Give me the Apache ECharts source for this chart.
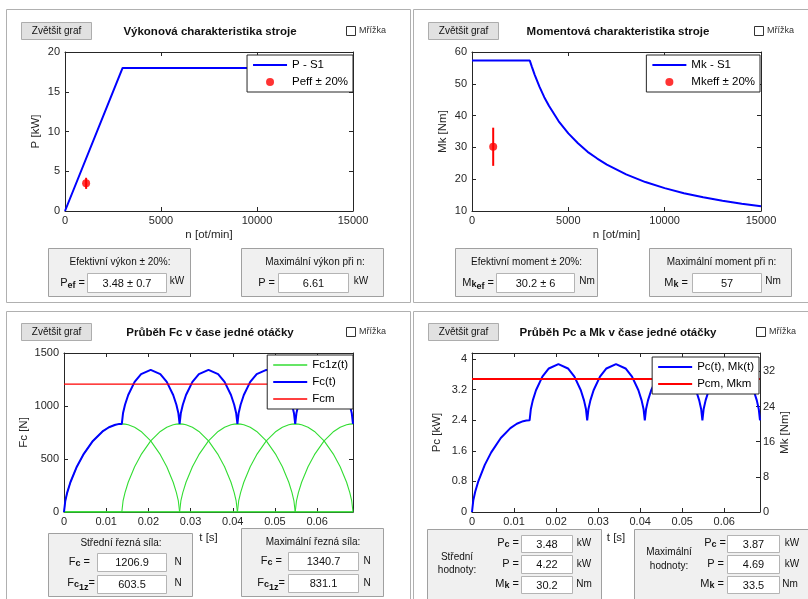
<!DOCTYPE html>
<html><head><meta charset="utf-8">
<script src="https://cdn.jsdelivr.net/npm/echarts@6/dist/echarts.min.js"></script>
<style>html,body{margin:0;padding:0;background:#fff}#c{width:808px;height:599px}</style>
</head><body><div id="c"></div>
<script>
// ---------------- DATA ----------------
// Panel 1: power characteristic
const powerN = [0, 3000, 15000];
const powerKW = [0, 18, 18];
const peffN = 1100, peffKW = 3.48, peffErr = 0.7;
// Panel 2: torque characteristic
const torqueN = [0, 3000, 3100, 3250, 3500, 3750, 4000, 4500, 5000, 5500, 6000, 6500, 7000, 8000, 9000, 10000, 11000, 12000, 13000, 14000, 15000];
const torqueNm = [57.3, 57.3, 55.5, 52.9, 49.1, 45.8, 43.0, 38.2, 34.4, 31.3, 28.6, 26.5, 24.6, 21.5, 19.1, 17.2, 15.6, 14.3, 13.2, 12.3, 11.5];
const mkeffN = 1100, mkeffNm = 30.2, mkeffErr = 6;
// Panels 3 & 4: time within one revolution [s]
const timeS = [
 0, 0.0003, 0.00076, 0.00152, 0.00304, 0.00457, 0.00685, 0.00913, 0.01066, 0.01218, 0.01294, 0.0134, 0.0137,
 0.0140, 0.01446, 0.01522, 0.01674, 0.01827, 0.02055, 0.02283, 0.02436, 0.02588, 0.02664, 0.0271, 0.0274,
 0.0277, 0.02816, 0.02892, 0.03044, 0.03197, 0.03425, 0.03653, 0.03806, 0.03958, 0.04034, 0.0408, 0.0411,
 0.0414, 0.04186, 0.04262, 0.04414, 0.04567, 0.04795, 0.05023, 0.05176, 0.05328, 0.05404, 0.0545, 0.0548,
 0.0551, 0.05556, 0.05632, 0.05784, 0.05937, 0.06165, 0.06393, 0.06546, 0.06698, 0.06774, 0.0682, 0.0685];
// total cutting force Fc(t) [N]
const fcTotal = [
 0, 103.8, 183.1, 280.7, 427.4, 540.8, 670.4, 760.2, 799.7, 823.3, 829.1, 830.8, 831.1,
 934.6, 1012.2, 1104.0, 1227.1, 1301.0, 1340.8, 1301.0, 1227.1, 1104.0, 1012.2, 934.6, 831.1,
 934.6, 1012.2, 1104.0, 1227.1, 1301.0, 1340.8, 1301.0, 1227.1, 1104.0, 1012.2, 934.6, 831.1,
 934.6, 1012.2, 1104.0, 1227.1, 1301.0, 1340.8, 1301.0, 1227.1, 1104.0, 1012.2, 934.6, 831.1,
 934.6, 1012.2, 1104.0, 1227.1, 1301.0, 1340.8, 1301.0, 1227.1, 1104.0, 1012.2, 934.6, 831.1];
// force on one tooth during its engagement [N] (same arch for every tooth)
const fc1zArch = [0, 103.8, 183.1, 280.7, 427.4, 540.8, 670.4, 760.2, 799.7, 823.3, 829.1, 830.8, 831.1,
 830.8, 829.1, 823.3, 799.7, 760.2, 670.4, 540.8, 427.4, 280.7, 183.1, 103.8, 0];
const toothStartIdx = [0, 12, 24, 36, 48];
const fcMean = 1206.9;
// cutting power Pc(t) [kW]
const pcTotal = [
 0, 0.300, 0.528, 0.810, 1.233, 1.561, 1.935, 2.194, 2.308, 2.376, 2.393, 2.398, 2.399,
 2.697, 2.921, 3.186, 3.541, 3.755, 3.870, 3.755, 3.541, 3.186, 2.921, 2.697, 2.399,
 2.697, 2.921, 3.186, 3.541, 3.755, 3.870, 3.755, 3.541, 3.186, 2.921, 2.697, 2.399,
 2.697, 2.921, 3.186, 3.541, 3.755, 3.870, 3.755, 3.541, 3.186, 2.921, 2.697, 2.399,
 2.697, 2.921, 3.186, 3.541, 3.755, 3.870, 3.755, 3.541, 3.186, 2.921, 2.697, 2.399];
const pcMean = 3.48;
const tMax = 0.0685;

// ---------------- STYLE HELPERS ----------------
const F = '"Liberation Sans", Arial, Helvetica, sans-serif';
const AX = '#262626';
const BLUE = '#0000ff', RED = '#ff0000', GREEN = '#33dd33';
const ICON_THICK = 'path://M0,0M34,8M0,3H34V5H0Z';
const ICON_THIN = 'path://M0,0M34,8M0,3.25H34V4.75H0Z';
const cx = document.createElement('canvas').getContext('2d');
const G = [];
function rect(x, y, w, h, fill, stroke) {
  G.push({type: 'rect', silent: true, z: 1, shape: {x: x, y: y, width: w, height: h},
    style: {fill: fill, stroke: stroke, lineWidth: 1}});
}
function txt(x, y, t, size, o) {
  o = o || {};
  G.push({type: 'text', silent: true, z: 5, x: x, y: y,
    style: {text: t, fontSize: size, fontFamily: F, fontWeight: o.w || 'normal',
      fill: o.fill || '#111', align: o.align || 'left', verticalAlign: 'middle'}});
}
// right-aligned label made of parts with subscripts
function lbl(xRight, y, parts) {
  let total = 0;
  parts.forEach(p => { cx.font = (p.w || 'normal') + ' ' + p.s + 'px ' + F; p.wd = cx.measureText(p.t).width; total += p.wd; });
  let x = xRight - total;
  parts.forEach(p => { txt(x, y + (p.dy || 0), p.t, p.s, {w: p.w}); x += p.wd; });
}
function input(x, y, w, h, val) {
  rect(x + 0.5, y + 0.5, w, h, '#ffffff', '#b4b4b4');
  txt(x + w / 2 + 0.5, y + h / 2 + 1, val, 11, {align: 'center'});
}

// panel frames
rect(6.5, 9.5, 404, 293, 'none', '#b0b0b0');
rect(413.5, 9.5, 400, 293, 'none', '#b0b0b0');
rect(6.5, 311.5, 404, 300, 'none', '#b0b0b0');
rect(413.5, 311.5, 400, 300, 'none', '#b0b0b0');
// buttons, titles, checkboxes
[[21, 22, 210, 32, 'Výkonová charakteristika stroje', 346, 359],
 [428, 22, 618, 32, 'Momentová charakteristika stroje', 754, 767],
 [21, 323, 210, 333, 'Průběh Fc v čase jedné otáčky', 346, 359],
 [428, 323, 618, 333, 'Průběh Pc a Mk v čase jedné otáčky', 756, 769]].forEach(p => {
  rect(p[0] + 0.5, p[1] + 0.5, 70, 17, '#e1e1e1', '#adadad');
  txt(p[0] + 35.5, p[1] + 9.5, 'Zvětšit graf', 10, {align: 'center'});
  txt(p[2], p[3], p[4], 11.5, {align: 'center', w: 'bold'});
  rect(p[5] + 0.5, p[1] + 4.5, 9, 9, '#ffffff', '#333333');
  txt(p[6], p[1] + 9, 'Mřížka', 9, {fill: '#333'});
});

// Panel 1 boxes
rect(48.5, 248.5, 142, 48, '#f0f0f0', '#a0a0a0');
txt(120, 262, 'Efektivní výkon ± 20%:', 10, {align: 'center'});
lbl(85, 283, [{t: 'P', s: 11}, {t: 'ef', s: 9, w: 'bold', dy: 3}, {t: ' =', s: 11}]);
input(87, 273, 79, 19, '3.48 ± 0.7');
txt(177, 281, 'kW', 10, {align: 'center'});
rect(241.5, 248.5, 142, 48, '#f0f0f0', '#a0a0a0');
txt(315, 262, 'Maximální výkon při n:', 10, {align: 'center'});
lbl(275, 283, [{t: 'P =', s: 11}]);
input(278, 273, 70, 19, '6.61');
txt(361, 281, 'kW', 10, {align: 'center'});
// Panel 2 boxes
rect(455.5, 248.5, 142, 48, '#f0f0f0', '#a0a0a0');
txt(526.5, 262, 'Efektivní moment ± 20%:', 10, {align: 'center'});
lbl(494, 283, [{t: 'M', s: 11}, {t: 'k', s: 9, w: 'bold', dy: 2}, {t: 'ef', s: 9, w: 'bold', dy: 4}, {t: ' =', s: 11}]);
input(496, 273, 78, 19, '30.2 ± 6');
txt(587, 281, 'Nm', 10, {align: 'center'});
rect(649.5, 248.5, 142, 48, '#f0f0f0', '#a0a0a0');
txt(721.5, 262, 'Maximální moment při n:', 10, {align: 'center'});
lbl(688, 283, [{t: 'M', s: 11}, {t: 'k', s: 9, w: 'bold', dy: 2}, {t: ' =', s: 11}]);
input(692, 273, 69, 19, '57');
txt(773, 281, 'Nm', 10, {align: 'center'});
// Panel 3 boxes
rect(48.5, 533.5, 144, 63, '#f0f0f0', '#a0a0a0');
txt(121, 543, 'Střední řezná síla:', 10, {align: 'center'});
lbl(90, 562, [{t: 'F', s: 11}, {t: 'c', s: 9, w: 'bold', dy: 2}, {t: ' =', s: 11}]);
input(97, 553, 69, 18, '1206.9');
txt(178, 562, 'N', 10, {align: 'center'});
lbl(95, 583, [{t: 'F', s: 11}, {t: 'c', s: 9, w: 'bold', dy: 2}, {t: '1z', s: 9, w: 'bold', dy: 5}, {t: '=', s: 11}]);
input(97, 575, 69, 18, '603.5');
txt(178, 583, 'N', 10, {align: 'center'});
rect(241.5, 528.5, 142, 68, '#f0f0f0', '#a0a0a0');
txt(313, 542, 'Maximální řezná síla:', 10, {align: 'center'});
lbl(282, 561, [{t: 'F', s: 11}, {t: 'c', s: 9, w: 'bold', dy: 2}, {t: ' =', s: 11}]);
input(288, 552, 70, 18, '1340.7');
txt(367, 561, 'N', 10, {align: 'center'});
lbl(285, 583, [{t: 'F', s: 11}, {t: 'c', s: 9, w: 'bold', dy: 2}, {t: '1z', s: 9, w: 'bold', dy: 5}, {t: '=', s: 11}]);
input(288, 574, 70, 18, '831.1');
txt(367, 583, 'N', 10, {align: 'center'});
// Panel 4 boxes
rect(427.5, 529.5, 174, 70, '#f0f0f0', '#a0a0a0');
txt(457, 557, 'Střední', 10, {align: 'center'});
txt(457, 570, 'hodnoty:', 10, {align: 'center'});
lbl(519, 543, [{t: 'P', s: 11}, {t: 'c', s: 9, w: 'bold', dy: 2}, {t: ' =', s: 11}]);
input(521, 535, 51, 17, '3.48');
txt(584, 543, 'kW', 10, {align: 'center'});
lbl(519, 564, [{t: 'P =', s: 11}]);
input(521, 555, 51, 18, '4.22');
txt(584, 564, 'kW', 10, {align: 'center'});
lbl(519, 584, [{t: 'M', s: 11}, {t: 'k', s: 9, w: 'bold', dy: 2}, {t: ' =', s: 11}]);
input(521, 576, 51, 17, '30.2');
txt(584, 584, 'Nm', 10, {align: 'center'});
rect(634.5, 529.5, 180, 70, '#f0f0f0', '#a0a0a0');
txt(669, 552, 'Maximální', 10, {align: 'center'});
txt(669, 566, 'hodnoty:', 10, {align: 'center'});
lbl(726, 543, [{t: 'P', s: 11}, {t: 'c', s: 9, w: 'bold', dy: 2}, {t: ' =', s: 11}]);
input(727, 535, 52, 17, '3.87');
txt(792, 543, 'kW', 10, {align: 'center'});
lbl(724, 564, [{t: 'P =', s: 11}]);
input(727, 555, 52, 18, '4.69');
txt(792, 564, 'kW', 10, {align: 'center'});
lbl(724, 584, [{t: 'M', s: 11}, {t: 'k', s: 9, w: 'bold', dy: 2}, {t: ' =', s: 11}]);
input(727, 576, 52, 17, '33.5');
txt(790, 584, 'Nm', 10, {align: 'center'});

// ---------------- AXES ----------------
const grids = [
  {left: 65, top: 52, width: 288, height: 159},
  {left: 472, top: 52, width: 289, height: 159},
  {left: 64, top: 353, width: 289, height: 159},
  {left: 472, top: 353, width: 288, height: 159}
];
const plainNum = v => String(+(+v).toFixed(6));
function axis(kind, gi, pos, min, max, interval, o) {
  o = o || {};
  const a = {
    type: 'value', gridIndex: gi, position: pos, min: min, max: max, interval: interval,
    axisLine: {show: true, onZero: false, lineStyle: {color: AX, width: 1}},
    axisTick: {show: true, inside: true, length: 4, lineStyle: {color: AX}},
    splitLine: {show: false},
    axisLabel: {show: !!o.labels, color: AX, fontSize: 11, fontFamily: F, formatter: plainNum,
      margin: kind === 'x' ? 4 : (pos === 'right' ? 3 : 5), showMaxLabel: o.showMax !== false},
    name: o.name || '', nameLocation: 'middle', nameGap: o.gap || 20,
    nameTextStyle: {color: AX, fontSize: 11.5, fontFamily: F}
  };
  if (kind === 'y' && o.name) a.nameRotate = 90;
  return a;
}
const xAxes = [
  axis('x', 0, 'bottom', 0, 15000, 5000, {labels: true, name: 'n [ot/min]', gap: 18}),
  axis('x', 0, 'top', 0, 15000, 5000),
  axis('x', 1, 'bottom', 0, 15000, 5000, {labels: true, name: 'n [ot/min]', gap: 18}),
  axis('x', 1, 'top', 0, 15000, 5000),
  axis('x', 2, 'bottom', 0, tMax, 0.01, {labels: true, showMax: false, name: 't [s]', gap: 20}),
  axis('x', 2, 'top', 0, tMax, 0.01),
  axis('x', 3, 'bottom', 0, tMax, 0.01, {labels: true, showMax: false, name: 't [s]', gap: 20}),
  axis('x', 3, 'top', 0, tMax, 0.01)
];
const yAxes = [
  axis('y', 0, 'left', 0, 20, 5, {labels: true, name: 'P [kW]', gap: 23}),
  axis('y', 0, 'right', 0, 20, 5),
  axis('y', 1, 'left', 10, 60, 10, {labels: true, name: 'Mk [Nm]', gap: 23}),
  axis('y', 1, 'right', 10, 60, 10),
  axis('y', 2, 'left', 0, 1500, 500, {labels: true, name: 'Fc [N]', gap: 34}),
  axis('y', 2, 'right', 0, 1500, 500),
  axis('y', 3, 'left', 0, 4.16, 0.8, {labels: true, showMax: false, name: 'Pc [kW]', gap: 29}),
  axis('y', 3, 'right', 0, 36.2, 8, {labels: true, showMax: false, name: 'Mk [Nm]', gap: 18})
];

// ---------------- SERIES ----------------
function line(name, xi, yi, data, color, width, z) {
  return {type: 'line', name: name, xAxisIndex: xi, yAxisIndex: yi, data: data, symbol: 'none',
    color: color, lineStyle: {color: color, width: width}, z: z || 2, animation: false};
}
const series = [
  line('P - S1', 0, 0, powerN.map((n, i) => [n, powerKW[i]]), BLUE, 2),
  line('Peff err', 0, 0, [[peffN, peffKW - peffErr], [peffN, peffKW + peffErr]], RED, 2, 3),
  {type: 'scatter', name: 'Peff ± 20%', xAxisIndex: 0, yAxisIndex: 0, data: [[peffN, peffKW]],
    symbolSize: 8, color: RED, z: 4, animation: false},
  line('Mk - S1', 2, 2, torqueN.map((n, i) => [n, torqueNm[i]]), BLUE, 2),
  line('Mkeff err', 2, 2, [[mkeffN, mkeffNm - mkeffErr], [mkeffN, mkeffNm + mkeffErr]], RED, 2, 3),
  {type: 'scatter', name: 'Mkeff ± 20%', xAxisIndex: 2, yAxisIndex: 2, data: [[mkeffN, mkeffNm]],
    symbolSize: 8, color: RED, z: 4, animation: false}
];
toothStartIdx.forEach(s => {
  series.push(line('Fc1z(t)', 4, 4, timeS.map((t, i) =>
    [t, (i >= s && i - s < fc1zArch.length) ? fc1zArch[i - s] : 0]), GREEN, 1.1));
});
series.push(line('Fc(t)', 4, 4, timeS.map((t, i) => [t, fcTotal[i]]), BLUE, 2, 3));
series.push(line('Fcm', 4, 4, [[0, fcMean], [tMax, fcMean]], RED, 1.3, 3));
series.push(line('Pc(t), Mk(t)', 6, 6, timeS.map((t, i) => [t, pcTotal[i]]), BLUE, 2, 3));
series.push(line('Pcm, Mkm', 6, 6, [[0, pcMean], [tMax, pcMean]], RED, 2, 3));

const legCommon = {
  orient: 'vertical', backgroundColor: '#ffffff', borderColor: AX, borderWidth: 1, borderRadius: 0,
  padding: [2, 5, 2, 6], itemGap: 1, itemWidth: 34, itemHeight: 8, selectedMode: false,
  textStyle: {fontSize: 11.5, fontFamily: F, color: '#000', lineHeight: 16}
};
const legends = [
  Object.assign({}, legCommon, {right: 455, top: 55, data: [{name: 'P - S1', icon: ICON_THICK}, {name: 'Peff ± 20%', icon: 'circle'}]}),
  Object.assign({}, legCommon, {right: 48, top: 55, data: [{name: 'Mk - S1', icon: ICON_THICK}, {name: 'Mkeff ± 20%', icon: 'circle'}]}),
  Object.assign({}, legCommon, {right: 455, top: 355, data: [{name: 'Fc1z(t)', icon: ICON_THIN}, {name: 'Fc(t)', icon: ICON_THICK}, {name: 'Fcm', icon: ICON_THIN}]}),
  Object.assign({}, legCommon, {right: 49, top: 357, data: [{name: 'Pc(t), Mk(t)', icon: ICON_THICK}, {name: 'Pcm, Mkm', icon: ICON_THICK}]})
];

const chart = echarts.init(document.getElementById('c'), null, {renderer: 'canvas', width: 808, height: 599});
chart.setOption({
  animation: false,
  backgroundColor: '#ffffff',
  grid: grids.map(g => Object.assign({show: false}, g)),
  xAxis: xAxes,
  yAxis: yAxes,
  legend: legends,
  series: series,
  graphic: {elements: G}
});
</script></body></html>
